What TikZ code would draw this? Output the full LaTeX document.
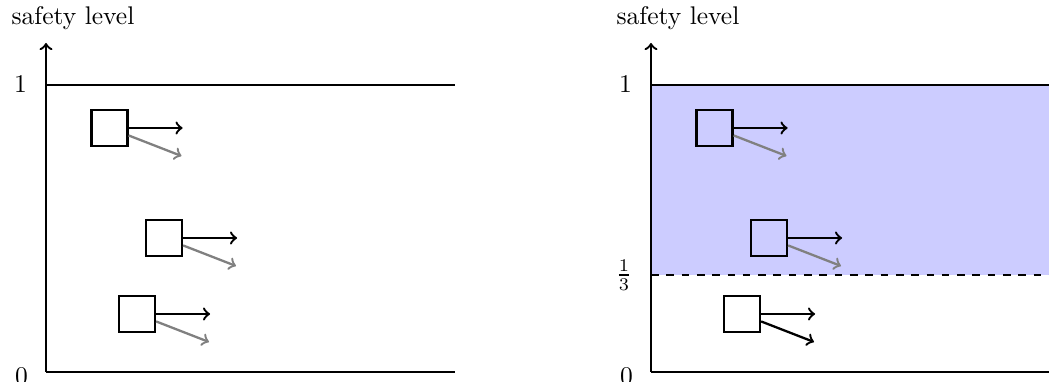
\documentclass[tikz,border=0pt]{standalone}
\usetikzlibrary{calc}
\begin{document}
\begin{tikzpicture}[x=0.392pt,y=-0.392pt,
  axis/.style={line width=0.9pt},
  carbox/.style={draw,line width=0.9pt,minimum size=14.1pt,inner sep=0pt},
  mv/.style={line width=0.9pt,->},
  mvg/.style={line width=0.9pt,->,gray}]
\useasboundingbox (0,0) rectangle (1049,382);
% ---------- left panel ----------
\node (ylab) at (73,18) {safety level};
\coordinate (o1) at (46,372);
\coordinate (t1) at (46,43);
\draw[axis,->] (o1) -- (t1);
\coordinate (r1) at (455,372);
\draw[axis] (o1) -- (r1);
\coordinate (a1) at (46,85);
\coordinate (b1) at (455,85);
\draw[axis] (a1) -- (b1);
\node[anchor=east] (one1) at (36,84) {1};
\node[anchor=east] (zero1) at (37,376.5) {0};
\node[carbox] (L1) at (109.5,128) {};
\node[carbox] (L2) at (164,238) {};
\node[carbox] (L3) at (137,314) {};
\foreach \n in {L1,L2,L3}{
  \draw[mv] (\n.east) -- ++(54,0);
  \draw[mvg] (\n) -- ++(72,28);
}
% ---------- right panel ----------
\fill[blue!20] (651,85) rectangle (1049,275);
\node (ylab2) at (678,18) {safety level};
\coordinate (o2) at (651,372);
\coordinate (t2) at (651,43);
\coordinate (r2) at (1049,372);
\draw[axis] (o2) -- (r2);
\draw[axis,->] (o2) -- (t2);
\coordinate (a2) at (651,85);
\coordinate (b2) at (1049,85);
\draw[axis] (a2) -- (b2);
\coordinate (c2) at (651,275);
\coordinate (d2) at (1049,275);
\draw[axis,dashed] (c2) -- (d2);
\node[anchor=east] (one2) at (641,84) {1};
\node[anchor=east] (third2) at (641,275) {$\frac{1}{3}$};
\node[anchor=east] (zero2) at (642,376.5) {0};
\node[carbox] (R1) at (714.5,128) {};
\node[carbox] (R2) at (769,238) {};
\node[carbox] (R3) at (742,314) {};
\foreach \n in {R1,R2}{
  \draw[mv] (\n.east) -- ++(54,0);
  \draw[mvg] (\n) -- ++(72,28);
}
\draw[mv] (R3.east) -- ++(54,0);
\draw[mv] (R3) -- ++(72,28);
\end{tikzpicture}
\end{document}
